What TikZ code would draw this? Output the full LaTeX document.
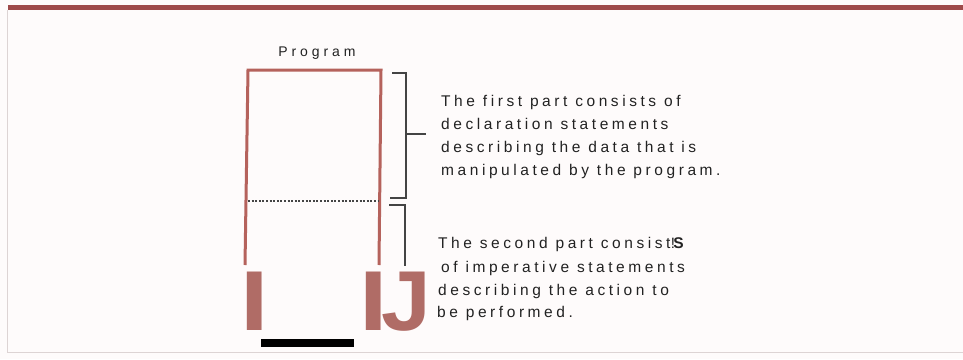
\documentclass[tikz,border=0pt]{standalone}
\usepackage{fontspec}
\setmainfont{Liberation Sans}
\newfontfamily\trackfont[LetterSpace=23]{Liberation Sans}
\newfontfamily\progfont[LetterSpace=28]{Liberation Sans}
\definecolor{bgc}{HTML}{FEFBFB}
\definecolor{barc}{HTML}{9E4A4A}
\definecolor{boxc}{HTML}{B5625C}
\definecolor{letc}{HTML}{B06C66}
\definecolor{framec}{HTML}{DDD4D4}
\definecolor{txtc}{HTML}{222222}
\definecolor{brc}{HTML}{444444}
\tikzset{
  desc/.style={font=\trackfont\fontsize{15.5}{23}\selectfont, text=txtc, anchor=base west, inner sep=0pt},
  bigletter/.style={font=\bfseries\fontsize{85}{85}\selectfont, text=letc, anchor=base west, inner sep=0pt},
  boxline/.style={draw=boxc, line width=3pt},
  brack/.style={draw=brc, line width=1.3pt},
}
\begin{document}
\begin{tikzpicture}[x=1pt,y=-1pt]
\useasboundingbox (0,0) rectangle (963,359);
\fill[bgc] (0,0) rectangle (963,359);
% frame
\draw[framec, line width=1pt] (7,10) -- (7,352) -- (963,352);
\fill[barc] (8,5) rectangle (963,10);
% label
\node[font=\progfont\fontsize{14}{14}\selectfont, text=txtc, anchor=base, inner sep=0pt] (prog) at (317,56) {Program};
% box
\coordinate (tl) at (248,70);
\coordinate (tr) at (381,70);
\coordinate (bl) at (245,265);
\coordinate (br) at (379,265);
\draw[boxline] (bl) -- (tl) -- (tr) -- (br);
\coordinate (dl) at (248,201);
\coordinate (dr) at (378,201);
\draw[brc, line width=2.4pt, dash pattern=on 2pt off 1.6pt] (dl) -- (dr);
% bracket 1
\coordinate (b1t) at (392,73);
\coordinate (b1b) at (390,198);
\coordinate (b1m) at (426,134);
\draw[brack] (b1t) -- (406,73) -- (406,198) -- (b1b);
\draw[brack] (406,134) -- (b1m);
% bracket 2
\coordinate (b2t) at (389,205);
\coordinate (b2e) at (405,266);
\draw[brack] (b2t) -- (405,205) -- (b2e);
\draw[black, line width=1pt] (407,273) -- (415,273);
% texts
\node[desc] (t1a) at (441,106) {The first part consists of};
\node[desc] (t1b) at (441,129) {declaration  statements};
\node[desc] (t1c) at (441,152) {describing the data that is};
\node[desc] (t1d) at (441,175) {manipulated by the program.};
\node[desc] (t2a) at (438,248) {The second part consist};
\node[desc] (t2b) at (441,272) {of imperative statements};
\node[desc] (t2c) at (438,295) {describing the action to};
\node[desc] (t2d) at (437,317) {be performed.};
\node[font=\fontsize{15}{15}\selectfont, text=txtc, anchor=base west, inner sep=0pt] (g1) at ([xshift=0pt]t2a.base east) {!};
\node[font=\bfseries\fontsize{15.5}{15}\selectfont, text=txtc, anchor=base west, inner sep=0pt] (g2) at ([xshift=-2pt]g1.base east) {S};
% glitch letters
\node[bigletter, xscale=1.2] (i1) at (240.5,330) {I};
\node[bigletter, xscale=1.2] (i2) at (359.5,330) {I};
\node[bigletter, xscale=1.05] (j1) at (381.5,330) {J};
\fill[black] (261,339) rectangle (354,347);
\end{tikzpicture}
\end{document}
